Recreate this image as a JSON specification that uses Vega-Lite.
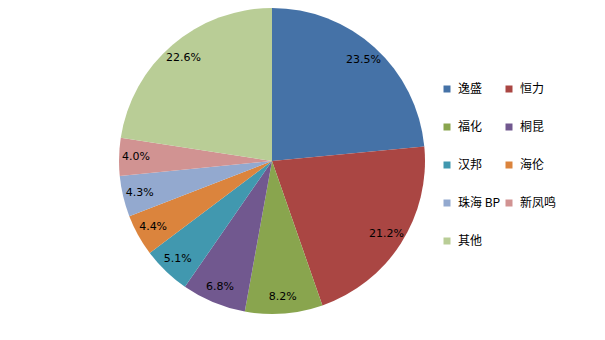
{
  "$schema": "https://vega.github.io/schema/vega-lite/v6.json",
  "width": 544,
  "height": 322,
  "autosize": "none",
  "padding": {"left": 0, "top": 0, "right": 61, "bottom": 18},
  "background": "white",
  "config": {"view": {"stroke": null}},
  "data": {"values": [
    {"i": 1, "name": "逸盛", "pct": 23.5, "label": "23.5%"},
    {"i": 2, "name": "恒力", "pct": 21.2, "label": "21.2%"},
    {"i": 3, "name": "福化", "pct": 8.2, "label": "8.2%"},
    {"i": 4, "name": "桐昆", "pct": 6.8, "label": "6.8%"},
    {"i": 5, "name": "汉邦", "pct": 5.1, "label": "5.1%"},
    {"i": 6, "name": "海伦", "pct": 4.4, "label": "4.4%"},
    {"i": 7, "name": "珠海 BP", "pct": 4.3, "label": "4.3%"},
    {"i": 8, "name": "新凤鸣", "pct": 4.0, "label": "4.0%"},
    {"i": 9, "name": "其他", "pct": 22.6, "label": "22.6%"}
  ]},
  "encoding": {
    "theta": {"field": "pct", "type": "quantitative", "stack": true},
    "order": {"field": "i", "type": "quantitative"}
  },
  "layer": [
    {
      "mark": {"type": "arc", "outerRadius": 153},
      "encoding": {
        "color": {
          "field": "name", "type": "nominal",
          "scale": {
            "domain": ["逸盛", "恒力", "福化", "桐昆", "汉邦", "海伦", "珠海 BP", "新凤鸣", "其他"],
            "range": ["#4572A7", "#AA4643", "#89A54E", "#71588F", "#4198AF", "#DB843D", "#93A9CF", "#D19392", "#B9CD96"]
          },
          "legend": {
            "title": null,
            "orient": "none",
            "direction": "horizontal",
            "legendX": 441,
            "legendY": 83,
            "columns": 2,
            "columnPadding": 2,
            "rowPadding": 26,
            "symbolType": "square",
            "symbolSize": 49,
            "symbolStrokeWidth": 0,
            "labelFont": "Noto Sans CJK SC",
            "labelFontSize": 12,
            "labelColor": "#000000",
            "labelOffset": 5
          }
        }
      }
    },
    {
      "mark": {"type": "text", "radius": 136, "font": "DejaVu Sans", "fontSize": 11, "color": "#000000"},
      "encoding": {"text": {"field": "label", "type": "nominal"}}
    }
  ]
}
